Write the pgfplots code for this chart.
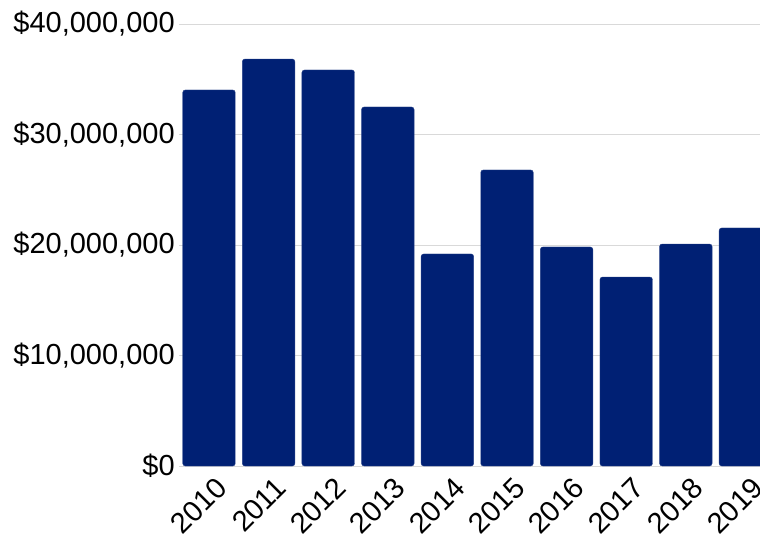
\documentclass[border=0pt]{standalone}
\usepackage{pgfplots}
\pgfplotsset{compat=1.18}
\usepackage{fontspec}
\setmainfont{Liberation Sans}
\definecolor{barblue}{RGB}{0,32,116}
\definecolor{gridgray}{RGB}{217,217,217}
\begin{document}
\begin{tikzpicture}
\begin{axis}[
  at={(0,0)}, anchor=south west,
  scale only axis,
  width=580.8bp, height=442bp,
  xmin=-0.5, xmax=9.245,
  ymin=0, ymax=40000000,
  scaled y ticks=false,
  axis line style={draw=none},
  tick style={draw=none},
  ymajorgrids, grid style={gridgray, line width=0.8bp},
  ytick={0,10000000,20000000,30000000,40000000},
  yticklabels={{\$0},{\$10,000,000},{\$20,000,000},{\$30,000,000},{\$40,000,000}},
  xtick={0,1,2,3,4,5,6,7,8,9},
  xticklabels={2010,2011,2012,2013,2014,2015,2016,2017,2018,2019},
  ticklabel style={font=\fontsize{29bp}{34bp}\selectfont, text=black},
  yticklabel style={anchor=east, xshift=-1bp},
  xticklabel style={xshift=15bp, yshift=-10bp, rotate=45, anchor=east},
  ybar, bar width=52.5bp,
  clip=true,
]
\addplot[fill=barblue, draw=barblue!85!white, line width=0.4bp, rounded corners=2.5bp] coordinates {
(0,34030000) (1,36830000) (2,35840000) (3,32490000) (4,19190000)
(5,26790000) (6,19820000) (7,17100000) (8,20090000) (9,21540000)
};
\end{axis}
\pgfresetboundingbox
\useasboundingbox (-179.2bp,-70bp) rectangle (580.8bp,466bp);
\end{tikzpicture}
\end{document}
